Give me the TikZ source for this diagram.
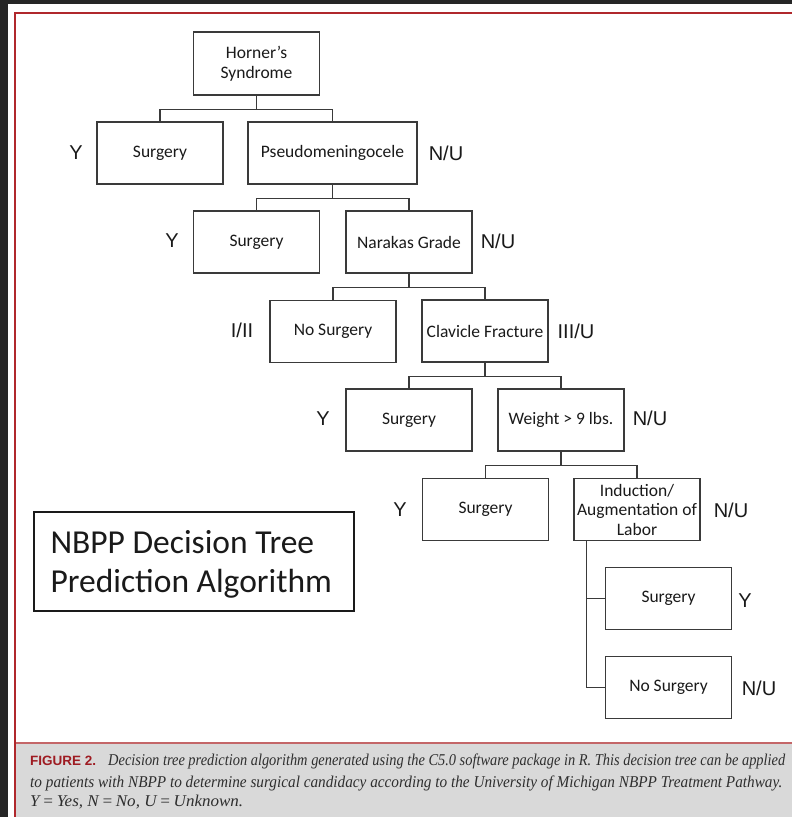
\documentclass[tikz,border=0pt]{standalone}
\usepackage{fontspec}
\setmainfont{Carlito}
\newfontfamily\lblfont{Liberation Sans}
\newfontfamily\capfont{Liberation Serif}
\definecolor{darkbg}{HTML}{262626}
\definecolor{redborder}{HTML}{B0282C}
\definecolor{capline}{HTML}{C46668}
\definecolor{capgray}{HTML}{D9D9D9}
\definecolor{figred}{HTML}{9E1B22}
\definecolor{captext}{HTML}{2E2E2E}
\definecolor{boxline}{HTML}{3A3A3A}
\definecolor{ink}{HTML}{1A1A1A}
\begin{document}
\begin{tikzpicture}[x=1pt,y=-1pt,
  box/.style={draw=boxline, line width=1.2pt, fill=white, minimum width=126pt, minimum height=62pt,
    inner sep=1pt, align=center, text=ink, font=\fontsize{17.5}{20}\selectfont},
  lbl/.style={text=ink, inner sep=0pt, font=\lblfont\fontsize{20}{22}\selectfont},
  conn/.style={draw=boxline, line width=1.2pt},
  capt/.style={anchor=base west, inner sep=0pt, text=captext, font=\capfont\itshape\fontsize{16.5}{18}\selectfont}]
\useasboundingbox (0,0) rectangle (792,817);
\fill[darkbg] (0,0) rectangle (792,817);
\fill[white] (8,4) rectangle (792,817);
\fill[capgray] (15,743) rectangle (792,817);
\draw[capline, line width=1.2pt] (15,743) -- (792,743);
\draw[redborder, line width=2pt] (15,817) -- (15,13) -- (792,13);

% tree nodes
\node[box, minimum height=63pt] (H) at (256.5,63.5) {Horner’s\\Syndrome};
\node[box] (S1) at (160,153) {Surgery};
\node[box, minimum width=169pt] (P) at (332.5,153) {Pseudomeningocele};
\node[box] (S2) at (256.5,242) {Surgery};
\node[box] (NG) at (409,242) {Narakas Grade};
\node[box] (NS3) at (333,331.5) {No Surgery};
\node[box] (CF) at (485,331) {Clavicle Fracture};
\node[box] (S4) at (409,420) {Surgery};
\node[box] (W) at (561,420) {Weight > 9 lbs.};
\node[box] (S5) at (485.5,509.5) {Surgery};
\node[box, font=\fontsize{17.5}{19.5}\selectfont] (IA) at (637,509.5) {Induction/\\Augmentation of\\Labor};
\node[box] (S6) at (668.5,598.5) {Surgery};
\node[box] (NS6) at (668.5,687.5) {No Surgery};

% connectors
\draw[conn] (H.south) -- ++(0,13.5) -| (S1.north);
\draw[conn] (H.south) -- ++(0,13.5) -| (P.north);
\draw[conn] (P.south) -- ++(0,13.5) -| (S2.north);
\draw[conn] (P.south) -- ++(0,13.5) -| (NG.north);
\draw[conn] (NG.south) -- ++(0,14) -| (NS3.north);
\draw[conn] (NG.south) -- ++(0,14) -| (CF.north);
\draw[conn] (CF.south) -- ++(0,14) -| (S4.north);
\draw[conn] (CF.south) -- ++(0,14) -| (W.north);
\draw[conn] (W.south) -- ++(0,13.5) -| (S5.north);
\draw[conn] (W.south) -- ++(0,13.5) -| (IA.north);
\draw[conn] ([xshift=13pt]IA.south west) |- (S6.west);
\draw[conn] ([xshift=13pt]IA.south west) |- (NS6.west);

% branch labels
\node[lbl] (y1) at (76,153) {Y};
\node[lbl] (nu1) at (446,153) {N/U};
\node[lbl] (y2) at (172,241) {Y};
\node[lbl] (nu2) at (498,241) {N/U};
\node[lbl] (i2) at (242,330) {I/II};
\node[lbl] (iii) at (576,331) {III/U};
\node[lbl] (y4) at (323,419) {Y};
\node[lbl] (nu4) at (650,418) {N/U};
\node[lbl] (y5) at (400,510) {Y};
\node[lbl] (nu5) at (731,510) {N/U};
\node[lbl] (y6) at (745,601) {Y};
\node[lbl] (nu6) at (759,688) {N/U};

% title box
\node[draw=ink, line width=1.4pt, fill=white, minimum width=320pt, minimum height=99pt] (T) at (194,561.5) {};
\node[anchor=base west, inner sep=0pt, text=ink, align=left,
  font=\fontsize{33.5}{39}\selectfont] (Tt) at ([xshift=17pt,yshift=-81pt]T.north west) {NBPP Decision Tree\\Prediction Algorithm};

% caption
\node[anchor=base west, inner sep=0pt, text=figred, font=\lblfont\bfseries\fontsize{13.5}{15}\selectfont] (fig) at (30,765) {FIGURE 2.};
\node[capt] (c1) at (108,765) {\resizebox{677pt}{\height}{Decision tree prediction algorithm generated using the C5.0 software package in R. This decision tree can be applied}};
\node[capt] (c2) at (30,787) {\resizebox{752pt}{\height}{to patients with NBPP to determine surgical candidacy according to the University of Michigan NBPP Treatment Pathway.}};
\node[capt] (c3) at (30,806) {\resizebox{213pt}{\height}{\textit{Y}\,=\,\textit{Yes, N}\,=\,\textit{No, U}\,=\,\textit{Unknown.}}};
\end{tikzpicture}
\end{document}
